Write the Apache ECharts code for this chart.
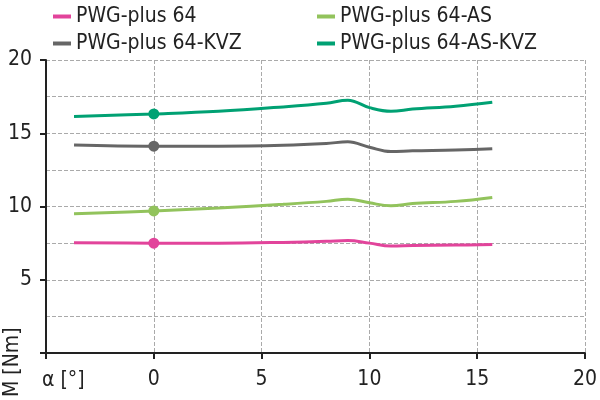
<!DOCTYPE html>
<html>
<head>
<meta charset="utf-8">
<script src="https://cdn.jsdelivr.net/npm/echarts@6/dist/echarts.min.js"></script>
<style>html,body{margin:0;padding:0;background:#fff}#chart{width:600px;height:400px}</style>
</head>
<body>
<div id="chart"></div>
<script>
// 数据
const names = ['PWG-plus 64', 'PWG-plus 64-KVZ', 'PWG-plus 64-AS', 'PWG-plus 64-AS-KVZ'];
const colors = ['#e2449b', '#666666', '#92c35c', '#00a173'];
const xs = [-3.7, 0, 3, 6, 8, 9, 10, 11, 12, 14, 15.7];
const s64 = [7.52, 7.5, 7.5, 7.55, 7.62, 7.68, 7.5, 7.3, 7.33, 7.37, 7.4];
const s64kvz = [14.2, 14.12, 14.12, 14.18, 14.3, 14.42, 14.05, 13.75, 13.8, 13.85, 13.95];
const s64as = [9.5, 9.7, 9.9, 10.15, 10.35, 10.5, 10.25, 10.05, 10.2, 10.35, 10.62];
const s64askvz = [16.15, 16.32, 16.5, 16.8, 17.05, 17.25, 16.75, 16.5, 16.65, 16.85, 17.12];
const allData = [s64, s64kvz, s64as, s64askvz];

const font = '"DejaVu Sans Condensed", "Noto Sans", sans-serif';
const chart = echarts.init(document.getElementById('chart'));

const series = allData.map((d, i) => ({
    name: names[i],
    type: 'line',
    smooth: 0.4,
    showSymbol: false,
    data: xs.map((x, j) => [x, d[j]]),
    lineStyle: { color: colors[i], width: 3 },
    itemStyle: { color: colors[i] },
    markPoint: {
        symbol: 'circle', symbolSize: 11,
        itemStyle: { color: colors[i] },
        label: { show: false },
        data: [{ coord: [0, d[1]] }]
    }
}));

const legendText = { fontSize: 21, color: '#222', fontFamily: font };

chart.setOption({
    animation: false,
    textStyle: { fontFamily: font },
    legend: [
        { data: [names[0], names[1]], orient: 'vertical', left: 48, top: 1, itemGap: 6,
          itemWidth: 18, itemHeight: 4, icon: 'rect', textStyle: legendText },
        { data: [names[2], names[3]], orient: 'vertical', left: 312, top: 1, itemGap: 6,
          itemWidth: 18, itemHeight: 4, icon: 'rect', textStyle: legendText }
    ],
    grid: { left: 46, right: 10, top: 60, bottom: 47 },
    xAxis: {
        type: 'value', min: -5, max: 20, interval: 5,
        axisLine: { onZero: false, lineStyle: { color: '#222', width: 2 } },
        axisTick: { show: true, length: 6, lineStyle: { color: '#222', width: 2 } },
        axisLabel: { fontSize: 21, color: '#222', margin: 16,
            formatter: v => v === -5 ? '' : String(v) },
        splitLine: { show: true, lineStyle: { type: 'dashed', color: '#aaa' } }
    },
    yAxis: {
        type: 'value', min: 0, max: 20, interval: 5,
        axisLine: { show: true, onZero: false, lineStyle: { color: '#222', width: 2 } },
        axisTick: { show: true, length: 6, lineStyle: { color: '#222', width: 2 } },
        axisLabel: { fontSize: 21, color: '#222', margin: 14,
            formatter: v => v === 0 ? '' : String(v) },
        minorTick: { show: false, splitNumber: 2 },
        minorSplitLine: { show: true, lineStyle: { type: 'dashed', color: '#aaa' } },
        splitLine: { show: true, lineStyle: { type: 'dashed', color: '#aaa' } }
    },
    graphic: [
        { type: 'text', x: 2, y: 397, rotation: Math.PI / 2,
          style: { text: 'M [Nm]', fontSize: 21, fill: '#222', fontFamily: font } },
        { type: 'text', left: 42, top: 370,
          style: { text: 'α [°]', fontSize: 21, fill: '#222', fontFamily: font } }
    ],
    series: series
});
</script>
</body>
</html>
